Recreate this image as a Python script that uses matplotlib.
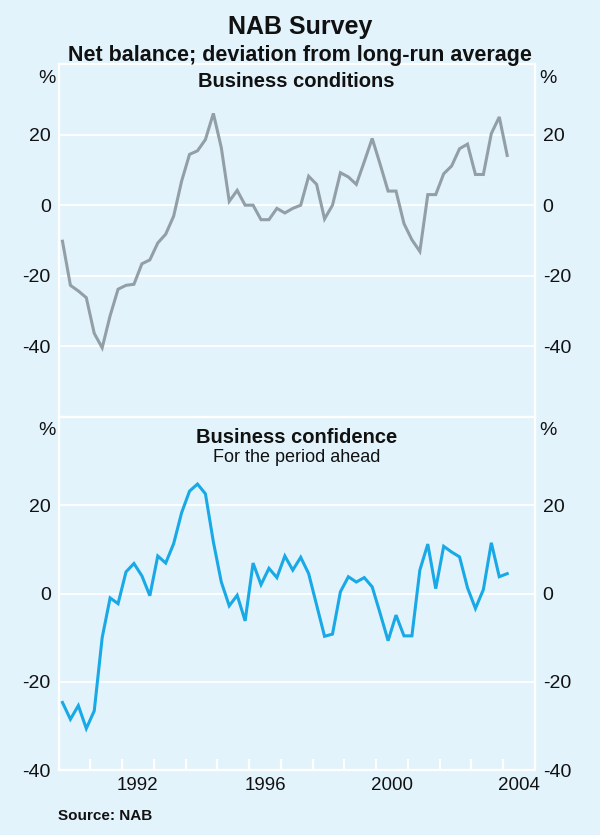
import numpy as np
import pandas as pd
import matplotlib
matplotlib.use('Agg')
import matplotlib.pyplot as plt

plt.rcParams['font.family'] = ['Liberation Sans', 'DejaVu Sans']

# 四半期データ（1990Q1 - 2004Q1）
quarters = pd.period_range('1990Q1', '2004Q1', freq='Q')
dates = quarters.year + (quarters.quarter - 1) / 4 + 0.125

conditions = [-10.2, -22.7, -24.3, -26.2, -36.3, -40.4, -31.3, -23.8, -22.7, -22.4,
              -16.6, -15.5, -10.7, -8.2, -3.1, 6.8, 14.4, 15.4, 18.6, 26.0,
              16.3, 1.1, 4.2, 0.0, 0.0, -4.1, -4.1, -0.9, -2.2, -0.9,
              0.0, 8.2, 5.9, -3.9, 0.0, 9.2, 8.0, 5.9, 12.3, 18.9,
              11.6, 4.0, 4.0, -5.2, -9.8, -13.1, 3.0, 3.0, 8.9, 11.1,
              16.0, 17.3, 8.7, 8.7, 20.3, 25.0, 14.1]

confidence = [-24.7, -28.5, -25.4, -30.6, -26.6, -10.0, -1.0, -2.3, 4.9, 6.8,
              4.0, -0.5, 8.5, 6.9, 11.3, 18.3, 23.2, 24.8, 22.6, 11.7,
              2.6, -2.8, -0.4, -6.2, 6.9, 2.0, 5.7, 3.6, 8.5, 5.3,
              8.2, 4.5, -2.6, -9.7, -9.2, 0.4, 3.8, 2.6, 3.6, 1.5,
              -4.5, -10.7, -4.9, -9.6, -9.6, 5.3, 11.2, 1.1, 10.7, 9.4,
              8.3, 1.3, -3.4, 0.9, 11.5, 3.8, 4.5]

y_ticks = [-40, -20, 0, 20]
year_labels = [1992, 1996, 2000, 2004]

bg = '#E3F3FC'
grey = '#939FA6'
blue = '#18A9E6'
txt = '#111111'

fig = plt.figure(figsize=(6, 8.35), dpi=100, facecolor=bg)
left, width = 58.5 / 600, (535 - 58.5) / 600
ax1 = fig.add_axes([left, 1 - 417 / 835, width, 353 / 835])
ax2 = fig.add_axes([left, 1 - 770 / 835, width, 353 / 835])

panels = [(ax1, conditions, grey, (-60, 40), 34.6, 'Business conditions', None),
          (ax2, confidence, blue, (-40, 40), 35.9, 'Business confidence', 'For the period ahead')]

for ax, vals, col, ylim, pct_y, title, sub in panels:
    ax.set_facecolor(bg)
    ax.plot(dates, vals, color=col, lw=2.2, solid_joinstyle='miter', zorder=3)
    ax.set_xlim(1990, 2005)
    ax.set_ylim(*ylim)
    ax.set_yticks(y_ticks)
    ax.set_yticklabels([str(t) for t in y_ticks])
    ax.tick_params(axis='y', left=False, right=False, labelleft=True, labelright=True,
                   labelsize=14, pad=2, labelcolor=txt)
    for t in y_ticks:
        ax.axhline(t, color='white', lw=1.3, zorder=1)
    for s in ax.spines.values():
        s.set_color('white')
        s.set_linewidth(1.6)
    # % ラベル
    tr = ax.get_yaxis_transform()
    ax.text(-0.007, pct_y, '%', transform=tr, ha='right', va='baseline', fontsize=14, color=txt)
    ax.text(1.009, pct_y, '%', transform=tr, ha='left', va='baseline', fontsize=14, color=txt)
    if sub is None:
        ax.text(0.5, 0.935, title, transform=ax.transAxes, ha='center', va='baseline',
                fontsize=14.5, fontweight='bold', color=txt)
    else:
        ax.text(0.5, 0.926, title, transform=ax.transAxes, ha='center', va='baseline',
                fontsize=14.5, fontweight='bold', color=txt)
        ax.text(0.5, 0.8725, sub, transform=ax.transAxes, ha='center', va='baseline',
                fontsize=13, color=txt)

# x軸
ax1.set_xticks([])
ax2.set_xticks(np.arange(1991, 2005))
ax2.set_xticklabels([])
ax2.tick_params(axis='x', which='major', direction='in', length=8, width=1.5, color='white')
ax2.set_xticks([y + 0.5 for y in year_labels], minor=True)
ax2.set_xticklabels([str(y) for y in year_labels], minor=True)
ax2.tick_params(axis='x', which='minor', length=0, pad=5, labelsize=13.5, labelcolor=txt)

fig.text(0.5, 1 - 34 / 835, 'NAB Survey', ha='center', va='baseline',
         fontsize=18, fontweight='bold', color=txt)
fig.text(0.5, 1 - 60.5 / 835, 'Net balance; deviation from long-run average', ha='center',
         va='baseline', fontsize=15.5, fontweight='bold', color=txt)
fig.text(58 / 600, 1 - 820 / 835, 'Source: NAB', ha='left', va='baseline',
         fontsize=11, fontweight='bold', color=txt)

fig.savefig('out.png', dpi=100, facecolor=bg)
